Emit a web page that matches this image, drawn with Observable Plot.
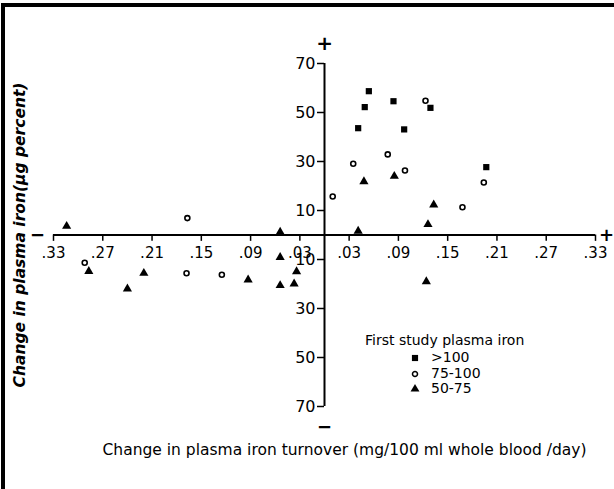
<!DOCTYPE html>
<html>
<head>
<meta charset="utf-8">
<script src="https://cdn.jsdelivr.net/npm/d3@7"></script>
<script src="https://cdn.jsdelivr.net/npm/@observablehq/plot@0.6"></script>
<style>
html, body { margin: 0; padding: 0; background: #fff; }
#wrap { position: relative; width: 614px; height: 489px; overflow: hidden; }
#frame { position: absolute; left: 1px; top: 3px; width: 640px; height: 520px;
  border-top: 4px solid #000; border-left: 4px solid #000; box-sizing: border-box; }
#chart { position: absolute; left: 0; top: 0; }
#legend { position: absolute; left: 0; top: 0; font-family: "DejaVu Sans", sans-serif; color: #000; }
#legend .t { position: absolute; white-space: nowrap; line-height: 1; }
#legend svg { position: absolute; overflow: visible; }
</style>
</head>
<body>
<div id="wrap">
  <div id="frame"></div>
  <div id="chart"></div>
  <div id="legend"></div>
</div>
<script>
// ---- Data ----
// Group ">100" (filled squares)
const highX = [0.054, 0.049, 0.041, 0.084, 0.097, 0.129, 0.197];
const highY = [58.7, 52.2, 43.6, 54.6, 43.1, 51.9, 27.7];
// Group "75-100" (open circles)
const midX = [0.123, 0.077, 0.035, 0.098, 0.194, 0.010, 0.168, -0.167, -0.292, -0.168, -0.125];
const midY = [54.8, 32.9, 29.1, 26.3, 21.4, 15.7, 11.3, 6.9, -11.3, -15.6, -16.2];
// Group "50-75" (filled triangles)
const lowX = [-0.314, -0.054, -0.054, -0.287, -0.220, -0.240, -0.093, -0.054, -0.037, -0.034,
              0.048, 0.085, 0.133, 0.126, 0.041, 0.124];
const lowY = [3.6, 1.2, -9.1, -14.8, -15.6, -22.0, -18.3, -20.6, -19.9, -14.9,
              21.8, 24.0, 12.3, 4.3, 1.6, -19.0];

// Tick values (labels are shown as absolute values, as in the figure)
const xTickValues = [-0.33, -0.27, -0.21, -0.15, -0.09, -0.03, 0.03, 0.09, 0.15, 0.21, 0.27, 0.33];
const yTickValues = [70, 50, 30, 10, -10, -30, -50, -70];

const legendTitle = "First study plasma iron";
const legendLabels = [">100", "75-100", "50-75"];
const xTitle = "Change in plasma iron turnover (mg/100 ml whole blood /day)";
const yTitle = "Change in plasma iron(\u03bcg percent)";
const axisSigns = ["\u2212", "+", "+", "\u2212"]; // left, right, top, bottom ends

// ---- Build ----
const toPts = (xs, ys) => xs.map((x, i) => ({x, y: ys[i]}));
const high = toPts(highX, highY);
const mid = toPts(midX, midY);
const low = toPts(lowX, lowY);

const fmtX = d => d3.format(".2f")(Math.abs(d)).replace(/^0/, "");
const font = "DejaVu Sans, sans-serif";

const chart = Plot.plot({
  width: 614,
  height: 489,
  marginLeft: 53,
  marginRight: 19,
  marginTop: 63,
  marginBottom: 83,
  x: {domain: [-0.33, 0.33], axis: null},
  y: {domain: [-70, 70], axis: null},
  style: {fontFamily: font, background: "transparent", color: "#000", overflow: "visible"},
  marks: [
    // axis lines crossing at the origin
    Plot.ruleY([0], {x1: () => -0.33, x2: () => 0.33, stroke: "#000", strokeWidth: 2}),
    Plot.ruleX([0], {y1: () => -70, y2: () => 70, stroke: "#000", strokeWidth: 2}),
    // tick marks
    Plot.ruleX(xTickValues, {x: d => d, y1: () => 0, y2: () => -2.6, stroke: "#000", strokeWidth: 1.5}),
    Plot.ruleY(yTickValues, {y: d => d, x1: () => 0, x2: () => -0.0085, stroke: "#000", strokeWidth: 1.5}),
    // tick labels
    Plot.text(xTickValues, {x: d => d, y: () => 0, dy: 18, text: fmtX, fontSize: 15, fill: "#000"}),
    Plot.text(yTickValues, {x: () => 0, y: d => d, dx: -9, textAnchor: "end", text: d => String(Math.abs(d)), fontSize: 16, fill: "#000"}),
    // sign markers at the axis ends
    Plot.text([axisSigns[0]], {x: () => -0.33, y: () => 0, dx: -16, text: d => d, fontSize: 18, fontWeight: "bold", fill: "#000"}),
    Plot.text([axisSigns[1]], {x: () => 0.33, y: () => 0, dx: 11, text: d => d, fontSize: 18, fontWeight: "bold", fill: "#000"}),
    Plot.text([axisSigns[2]], {x: () => 0, y: () => 70, dy: -20, text: d => d, fontSize: 20, fontWeight: "bold", fill: "#000"}),
    Plot.text([axisSigns[3]], {x: () => 0, y: () => -70, dy: 21, text: d => d, fontSize: 18, fontWeight: "bold", fill: "#000"}),
    // data
    Plot.dot(mid, {x: "x", y: "y", symbol: "circle", r: 2.5, stroke: "#000", strokeWidth: 1.6, fill: "#fff"}),
    Plot.dot(low, {x: "x", y: "y", symbol: "triangle", r: 3.4, fill: "#000", stroke: "none"}),
    Plot.dot(high, {x: "x", y: "y", symbol: "square", r: 3.5, fill: "#000", stroke: "none"}),
    // axis titles
    Plot.text([xTitle], {frameAnchor: "bottom", dx: 20, dy: 48, fontSize: 15.5, fill: "#000"}),
    Plot.text([yTitle], {frameAnchor: "left", textAnchor: "middle", dx: -33, rotate: -90, fontSize: 15.5, fontWeight: "bold", fontStyle: "italic", fill: "#000"})
  ]
});
document.getElementById("chart").appendChild(chart);

// ---- Legend (HTML overlay inside the plot area) ----
const legend = document.getElementById("legend");
const lt = document.createElement("div");
lt.className = "t";
lt.textContent = legendTitle;
lt.style.cssText = "left:365px;top:333px;font-size:14px;";
legend.appendChild(lt);
const symbolsFor = [d3.symbolSquare, d3.symbolCircle, d3.symbolTriangle];
const fills = ["#000", "#fff", "#000"];
const strokes = ["none", "#000", "none"];
const sizes = [38, 20, 34];
legendLabels.forEach((lab, i) => {
  const cy = 358 + i * 15.5;
  const svg = d3.create("svg").attr("width", 12).attr("height", 12)
    .style("left", "409px").style("top", (cy - 6) + "px");
  svg.append("path").attr("transform", "translate(6,6)")
    .attr("d", d3.symbol(symbolsFor[i], sizes[i])())
    .attr("fill", fills[i]).attr("stroke", strokes[i]).attr("stroke-width", 1.5);
  legend.appendChild(svg.node());
  const t = document.createElement("div");
  t.className = "t";
  t.textContent = lab;
  t.style.cssText = `left:431px;top:${cy - 8}px;font-size:14px;`;
  legend.appendChild(t);
});
</script>
</body>
</html>
